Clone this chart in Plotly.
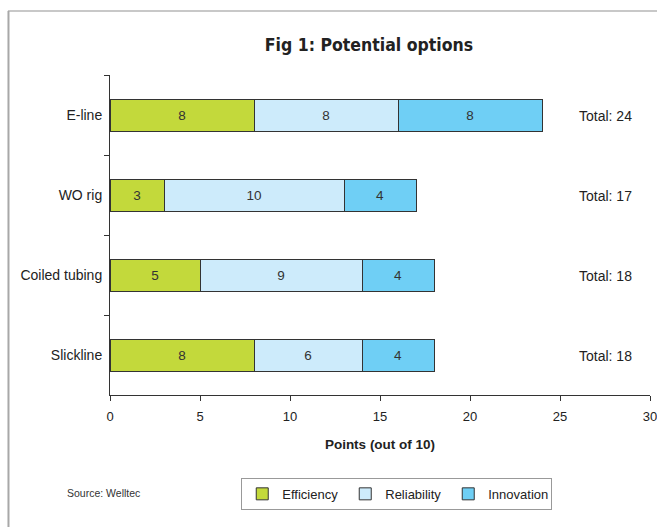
import plotly.graph_objects as go

categories = ["E-line", "WO rig", "Coiled tubing", "Slickline"]
efficiency = [8, 3, 5, 8]
reliability = [8, 10, 9, 6]
innovation = [8, 4, 4, 4]
totals = [24, 17, 18, 18]
x_ticks = [0, 5, 10, 15, 20, 25, 30]

series = [
    ("Efficiency", efficiency, "#c3d93b"),
    ("Reliability", reliability, "#cdebfb"),
    ("Innovation", innovation, "#6fcff5"),
]

BODY = "Liberation Sans, Arial, Helvetica, sans-serif"
NARROW = "Liberation Sans Narrow, DejaVu Sans Condensed, Arial Narrow, sans-serif"

fig = go.Figure()
for name, vals, col in series:
    fig.add_trace(go.Bar(
        name=name, y=categories, x=vals, orientation="h",
        marker=dict(color=col, line=dict(color="#333333", width=1)),
        text=[str(v) for v in vals], textposition="inside",
        insidetextanchor="middle", textangle=0,
        textfont=dict(family=BODY, size=13.5, color="#333333"),
        width=0.4,
    ))

for cat, tot in zip(categories, totals):
    fig.add_annotation(x=27.5, y=cat, xref="x", yref="y", text=f"Total: {tot}",
                       showarrow=False, font=dict(family=BODY, size=14, color="#222222"),
                       yshift=-1)

# frame lines (top and left)
fig.add_shape(type="line", xref="paper", yref="paper", x0=-0.189, x1=1.02,
              y0=1.2, y1=1.2, line=dict(color="#c8c8c8", width=2))
fig.add_shape(type="line", xref="paper", yref="paper", x0=-0.188, x1=-0.188,
              y0=1.2, y1=-0.42, line=dict(color="#a8a8a8", width=2))

fig.add_annotation(xref="paper", yref="paper", x=-0.0833, y=-0.306,
                   text="Source: Welltec", showarrow=False, xanchor="left", yanchor="middle",
                   font=dict(family=BODY, size=10.5, color="#333333"))

fig.update_layout(
    width=657, height=527,
    margin=dict(l=110, r=7, t=75, b=132),
    paper_bgcolor="white", plot_bgcolor="white",
    barmode="stack",
    title=dict(text="<b>Fig 1: Potential options</b>", x=0.5616, xanchor="center",
               y=0.914, yanchor="middle",
               font=dict(family=NARROW, size=17.5, color="#222222")),
    showlegend=True,
    legend=dict(orientation="h", x=0.531, xanchor="center", y=-0.259, yanchor="top",
                bordercolor="#999999", borderwidth=1,
                font=dict(family=BODY, size=13, color="#222222"),
                entrywidth=58, entrywidthmode="pixels", traceorder="normal"),
    xaxis=dict(range=[0, 30], tickvals=x_ticks, showgrid=False, zeroline=False,
               automargin=False, ticklabeloverflow="allow", ticklabelstandoff=4,
               showline=True, linecolor="#333333", linewidth=1,
               ticks="outside", ticklen=5, tickcolor="#333333",
               tickfont=dict(family=BODY, size=13, color="#222222"),
               title=dict(text="<b>Points (out of 10)</b>", standoff=16,
                          font=dict(family=BODY, size=13.5, color="#222222"))),
    yaxis=dict(type="category", categoryorder="array", categoryarray=categories,
               range=[3.5, -0.5], showgrid=False, zeroline=False, automargin=False,
               showline=True, linecolor="#333333", linewidth=1,
               ticks="outside", tickson="boundaries", ticklen=5, tickcolor="#333333",
               ticklabelstandoff=4,
               tickfont=dict(family=BODY, size=14, color="#222222")),
)

fig.write_html("out.html")
